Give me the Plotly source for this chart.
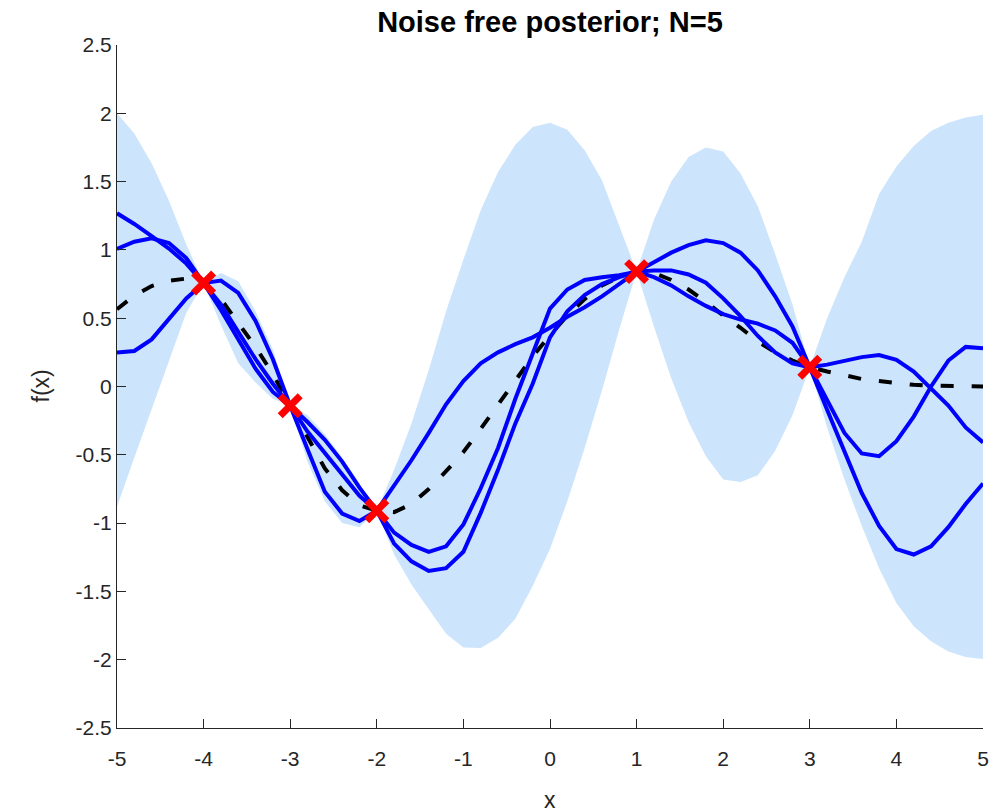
import plotly.graph_objects as go

# grid of test inputs
x_grid = [-5.0, -4.8, -4.6, -4.4, -4.2, -4.0, -3.8, -3.6, -3.4, -3.2,
          -3.0, -2.8, -2.6, -2.4, -2.2, -2.0, -1.8, -1.6, -1.4, -1.2,
          -1.0, -0.8, -0.6, -0.4, -0.2, 0.0, 0.2, 0.4, 0.6, 0.8,
          1.0, 1.2, 1.4, 1.6, 1.8, 2.0, 2.2, 2.4, 2.6, 2.8,
          3.0, 3.2, 3.4, 3.6, 3.8, 4.0, 4.2, 4.4, 4.6, 4.8, 5.0]

# posterior mean
post_mean = [0.566, 0.665, 0.735, 0.775, 0.79, 0.757, 0.64, 0.47, 0.29, 0.09,
             -0.141, -0.38, -0.60, -0.76, -0.87, -0.909, -0.92, -0.86, -0.75, -0.62,
             -0.48, -0.31, -0.135, 0.04, 0.22, 0.375, 0.52, 0.64, 0.74, 0.80,
             0.841, 0.83, 0.78, 0.71, 0.62, 0.52, 0.43, 0.33, 0.25, 0.19,
             0.141, 0.11, 0.08, 0.055, 0.04, 0.025, 0.012, 0.006, 0.003, 0.001, 0.0]

# upper / lower edge of the shaded band
band_upper = [2.0, 1.853, 1.634, 1.36, 1.04, 0.757, 0.83, 0.77, 0.55, 0.27,
              -0.141, -0.21, -0.35, -0.52, -0.71, -0.909, -0.61, -0.27, 0.12, 0.55,
              0.93, 1.29, 1.57, 1.77, 1.90, 1.93, 1.88, 1.73, 1.51, 1.18,
              0.841, 1.22, 1.50, 1.68, 1.75, 1.72, 1.56, 1.32, 0.97, 0.60,
              0.141, 0.50, 0.80, 1.06, 1.41, 1.61, 1.76, 1.87, 1.93, 1.97, 1.99]
band_lower = [-0.88, -0.52, -0.16, 0.19, 0.54, 0.757, 0.45, 0.17, 0.03, -0.09,
              -0.141, -0.55, -0.84, -1.0, -1.03, -0.909, -1.23, -1.45, -1.63, -1.81,
              -1.91, -1.915, -1.84, -1.70, -1.46, -1.19, -0.84, -0.45, -0.03, 0.42,
              0.841, 0.44, 0.06, -0.26, -0.51, -0.68, -0.70, -0.65, -0.47, -0.21,
              0.141, -0.30, -0.68, -1.02, -1.33, -1.585, -1.755, -1.865, -1.94, -1.98, -1.995]

# three posterior samples
sample_1 = [1.268, 1.19, 1.10, 1.01, 0.90, 0.757, 0.60, 0.40, 0.20, 0.02,
            -0.141, -0.26, -0.39, -0.55, -0.74, -0.909, -0.73, -0.54, -0.34, -0.13,
            0.04, 0.17, 0.25, 0.31, 0.36, 0.43, 0.51, 0.58, 0.66, 0.75,
            0.841, 0.91, 0.98, 1.035, 1.07, 1.05, 0.98, 0.85, 0.66, 0.44,
            0.141, 0.16, 0.19, 0.215, 0.23, 0.195, 0.11, -0.015, -0.14, -0.30, -0.41]
sample_2 = [1.007, 1.06, 1.085, 1.05, 0.94, 0.757, 0.56, 0.35, 0.13, -0.04,
            -0.141, -0.33, -0.49, -0.65, -0.80, -0.909, -1.07, -1.16, -1.21, -1.17,
            -1.01, -0.745, -0.45, -0.09, 0.25, 0.57, 0.71, 0.78, 0.80, 0.815,
            0.841, 0.85, 0.85, 0.82, 0.76, 0.645, 0.515, 0.37, 0.25, 0.17,
            0.141, -0.10, -0.34, -0.49, -0.51, -0.40, -0.22, 0.0, 0.19, 0.29, 0.28]
sample_3 = [0.249, 0.26, 0.345, 0.49, 0.645, 0.757, 0.775, 0.685, 0.48, 0.20,
            -0.141, -0.46, -0.77, -0.93, -0.985, -0.909, -1.15, -1.28, -1.35, -1.33,
            -1.21, -0.925, -0.61, -0.27, 0.02, 0.36, 0.55, 0.67, 0.75, 0.80,
            0.841, 0.80, 0.74, 0.66, 0.59, 0.53, 0.49, 0.46, 0.41, 0.32,
            0.141, -0.17, -0.48, -0.78, -1.02, -1.19, -1.23, -1.17, -1.03, -0.86, -0.71]

# observed training points
x_train = [-4, -3, -2, 1, 3]
f_train = [0.757, -0.141, -0.909, 0.841, 0.141]

x_ticks = [-5, -4, -3, -2, -1, 0, 1, 2, 3, 4, 5]
x_tick_text = ["-5", "-4", "-3", "-2", "-1", "0", "1", "2", "3", "4", "5"]
y_ticks = [-2.5, -2, -1.5, -1, -0.5, 0, 0.5, 1, 1.5, 2, 2.5]
y_tick_text = ["-2.5", "-2", "-1.5", "-1", "-0.5", "0", "0.5", "1", "1.5", "2", "2.5"]

FONT = "Liberation Sans, Arial, Helvetica, sans-serif"
AX = "#262626"
W, H = 996, 812
ML, MR, MT, MB = 117, 13, 45, 84
PW, PH = W - ML - MR, H - MT - MB

fig = go.Figure()
fig.add_trace(go.Scatter(
    x=x_grid + x_grid[::-1], y=band_upper + band_lower[::-1],
    fill="toself", fillcolor="rgb(204,228,252)", line=dict(width=0),
    mode="lines", hoverinfo="skip", showlegend=False))
fig.add_trace(go.Scatter(
    x=x_grid, y=post_mean, mode="lines",
    line=dict(color="black", width=4, dash="13px,18px"), showlegend=False))
for s in (sample_1, sample_2, sample_3):
    fig.add_trace(go.Scatter(
        x=x_grid, y=s, mode="lines",
        line=dict(color="rgb(0,0,255)", width=4), showlegend=False))
fig.add_trace(go.Scatter(
    x=x_train, y=f_train, mode="markers",
    marker=dict(symbol="x-thin", size=20, color="red",
                line=dict(color="red", width=7)), showlegend=False))

fig.update_layout(
    width=W, height=H,
    margin=dict(l=ML, r=MR, t=MT, b=MB, autoexpand=False),
    paper_bgcolor="white", plot_bgcolor="white",
    font=dict(family=FONT, size=20, color=AX),
    title=dict(text="<b>Noise free posterior; N=5</b>", xref="paper", x=0.5,
               xanchor="center", y=1 - 22 / H, yanchor="middle",
               font=dict(family=FONT, size=29, color="black")),
    xaxis=dict(range=[-5, 5], tickvals=x_ticks, ticktext=x_tick_text,
               showgrid=False, zeroline=False, showline=True, linecolor=AX,
               linewidth=1, ticks="inside", ticklen=9, tickwidth=1, tickcolor=AX,
               tickfont=dict(size=21, color=AX), ticklabelstandoff=12,
               automargin=False),
    yaxis=dict(range=[-2.5, 2.5], tickvals=y_ticks, ticktext=y_tick_text,
               showgrid=False, zeroline=False, showline=True, linecolor=AX,
               linewidth=1, ticks="inside", ticklen=9, tickwidth=1, tickcolor=AX,
               tickfont=dict(size=21, color=AX), automargin=False),
    annotations=[
        dict(text="x", xref="paper", yref="paper", x=0.5, y=-(800 - (H - MB)) / PH,
             xanchor="center", yanchor="middle", showarrow=False,
             font=dict(size=23, color=AX)),
        dict(text="f(x)", xref="paper", yref="paper", x=(40 - ML) / PW, y=0.5,
             xanchor="center", yanchor="middle", showarrow=False, textangle=-90,
             font=dict(size=23, color=AX)),
    ],
)
fig.write_html("out.html")
